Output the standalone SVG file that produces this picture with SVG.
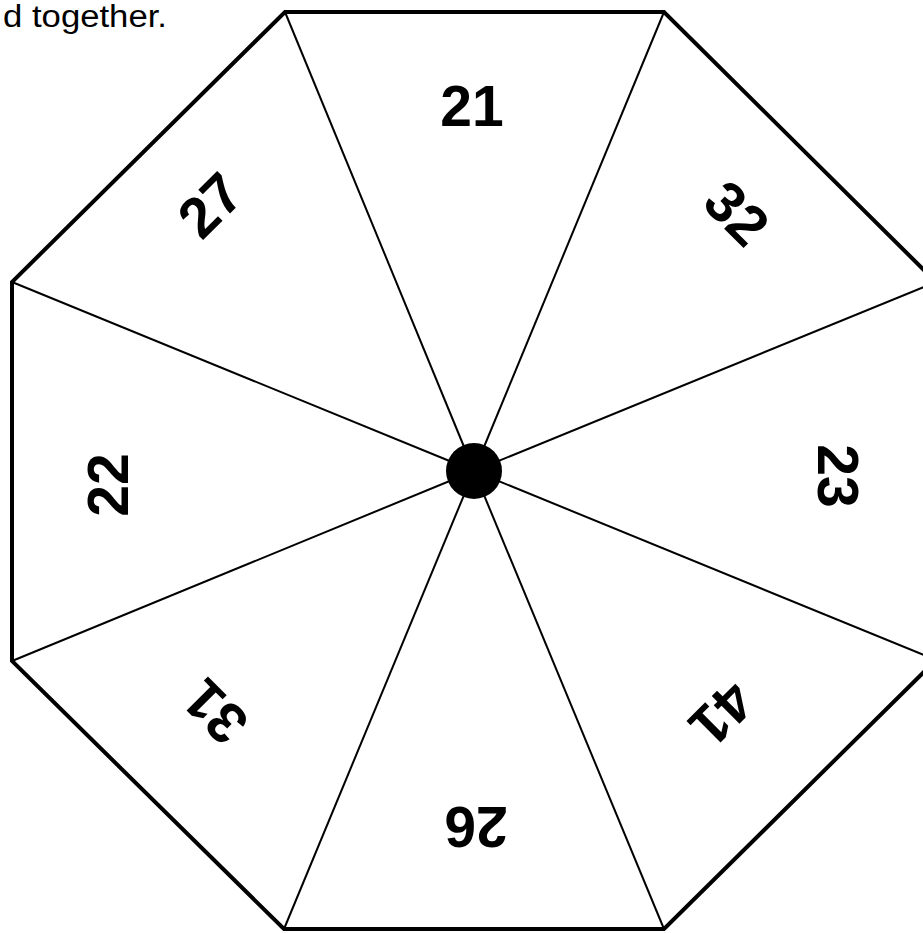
<svg xmlns="http://www.w3.org/2000/svg" width="923" height="933" viewBox="0 0 923 933">
<style>
.outer{fill:none;stroke:#000;stroke-width:4;stroke-linejoin:miter}
.spoke{stroke:#000;stroke-width:2}
.num{font-family:"Liberation Sans",Arial,sans-serif;font-weight:bold;font-size:57px;fill:#000;text-anchor:middle;dominant-baseline:central}
.cap{font-family:"Liberation Sans",Arial,sans-serif;font-size:31px;fill:#000}
</style>
<rect width="923" height="933" fill="#fff"/>
<text class="cap" x="3" y="27" textLength="164" lengthAdjust="spacingAndGlyphs">d together.</text>
<g id="connectors">
<line class="spoke" x1="474" y1="471" x2="285" y2="12"/>
<line class="spoke" x1="474" y1="471" x2="664" y2="12"/>
<line class="spoke" x1="474" y1="471" x2="936" y2="282"/>
<line class="spoke" x1="474" y1="471" x2="936" y2="660"/>
<line class="spoke" x1="474" y1="471" x2="664" y2="929"/>
<line class="spoke" x1="474" y1="471" x2="284" y2="929"/>
<line class="spoke" x1="474" y1="471" x2="12" y2="661"/>
<line class="spoke" x1="474" y1="471" x2="12" y2="282"/>
</g>
<g id="octagon">
<polygon class="outer" points="285,12 664,12 936,282 936,660 664,929 284,929 12,661 12,282"/>
</g>
<g id="hub"><circle cx="474" cy="471" r="28" fill="#000"/></g>
<g id="s21"><text class="num" transform="translate(472,106)">21</text></g>
<g id="s32"><text class="num" transform="translate(737,213) rotate(45)">32</text></g>
<g id="s23"><text class="num" transform="translate(838,476) rotate(90)">23</text></g>
<g id="s41"><text class="num" transform="translate(722,714) rotate(135)">41</text></g>
<g id="s26"><text class="num" transform="translate(476,827) rotate(180)">26</text></g>
<g id="s31"><text class="num" transform="translate(215,712) rotate(225)">31</text></g>
<g id="s22"><text class="num" transform="translate(108,485) rotate(270)">22</text></g>
<g id="s27"><text class="num" transform="translate(210,205) rotate(315)">27</text></g>
</svg>
